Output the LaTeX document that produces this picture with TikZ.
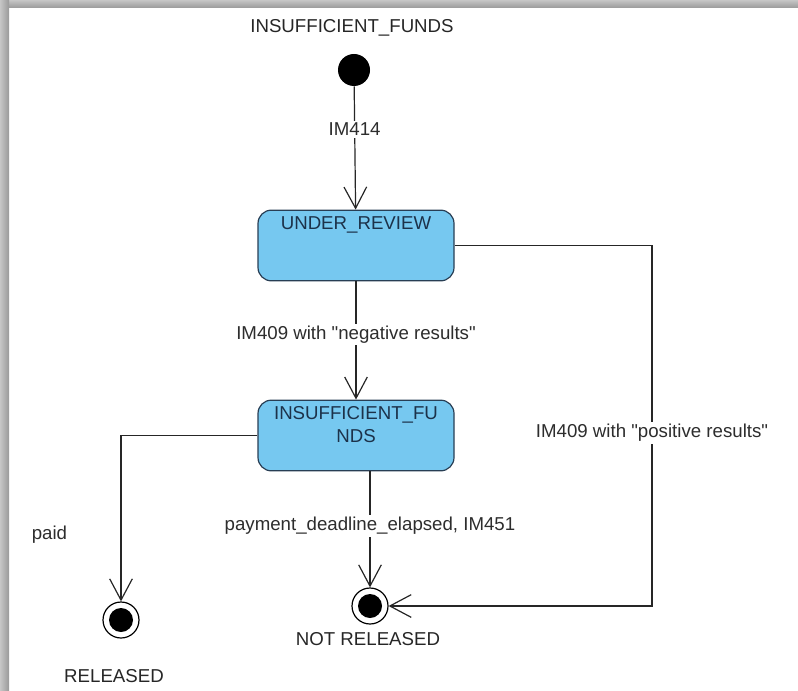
\documentclass[tikz,border=0pt]{standalone}
\usepackage{fontspec}
\setmainfont{Liberation Sans}
\usepackage{tikz}
\usetikzlibrary{arrows.meta,positioning,calc}

\definecolor{stateblue}{RGB}{118,200,240}
\definecolor{stateline}{RGB}{40,62,84}
\definecolor{statetext}{RGB}{28,50,74}
\definecolor{lblgray}{RGB}{45,45,45}

\begin{document}
\begin{tikzpicture}[
    x=0.75pt, y=-0.75pt,
    font=\fontsize{14}{16}\selectfont,
    state/.style={draw=stateline, line width=0.9pt, fill=stateblue, rounded corners=10pt,
      minimum width=147pt, minimum height=53pt},
    stxt/.style={text=statetext, align=center, inner sep=0pt},
    init/.style={circle, fill=black, minimum size=24pt, inner sep=0pt},
    final/.style={circle, draw=black, line width=0.9pt, fill=white, minimum size=27pt, inner sep=0pt,
      path picture={\fill[black] (path picture bounding box.center) circle (9pt);}},
    arr/.style={-{Straight Barb[length=16pt, width=17pt, line width=0.9pt]}, line width=0.9pt, draw=black!85},
    lbl/.style={fill=white, text=lblgray, inner sep=1.5pt, midway},
    statename/.style={text=black!85, inner sep=0pt}
  ]
  \useasboundingbox (0,0) rectangle (798,691);
  % window frame
  \shade[top color=gray!45, bottom color=gray!80] (0,0) rectangle (798,8);
  \shade[left color=gray!45, right color=gray!80] (0,0) rectangle (9,691);
  % states
  \node[init] (start) at (354,70) {};
  \node[statename] (startname) at (352,28) {INSUFFICIENT\_FUNDS};
  \node[state] (review) at (356,245.5) {};
  \node[stxt, anchor=north] (reviewtxt) at ($(review.north)+(0,-5pt)$) {UNDER\_REVIEW};
  \node[state] (insuf) at (356,435.5) {};
  \node[stxt, anchor=north] (insuftxt) at ($(insuf.north)+(0,-5pt)$) {INSUFFICIENT\_FU\\[1pt]NDS};
  \node[final] (rel) at (121,620) {};
  \node[statename] (relname) at (114,676) {RELEASED};
  \node[final] (notrel) at (370,606) {};
  \node[statename] (notrelname) at (368,639) {NOT RELEASED};
  \coordinate (rcorner) at (652,606);
  % transitions
  \draw[arr] (start) -- node[lbl, pos=0.35] {IM414} (review);
  \draw[arr] (review) -- node[lbl, pos=0.45] {IM409 with \textquotedbl negative results\textquotedbl} (insuf);
  \draw[arr] (review.east) -| node[lbl, pos=0.76] {IM409 with \textquotedbl positive results\textquotedbl} (rcorner) -- (notrel);
  \draw[arr] (insuf.west) -| node[pos=0.80, left=40pt, text=lblgray, inner sep=0pt] {paid} (rel);
  \draw[arr] (insuf.south -| notrel) -- node[lbl, pos=0.47] {payment\_deadline\_elapsed, IM451} (notrel);
\end{tikzpicture}
\end{document}
